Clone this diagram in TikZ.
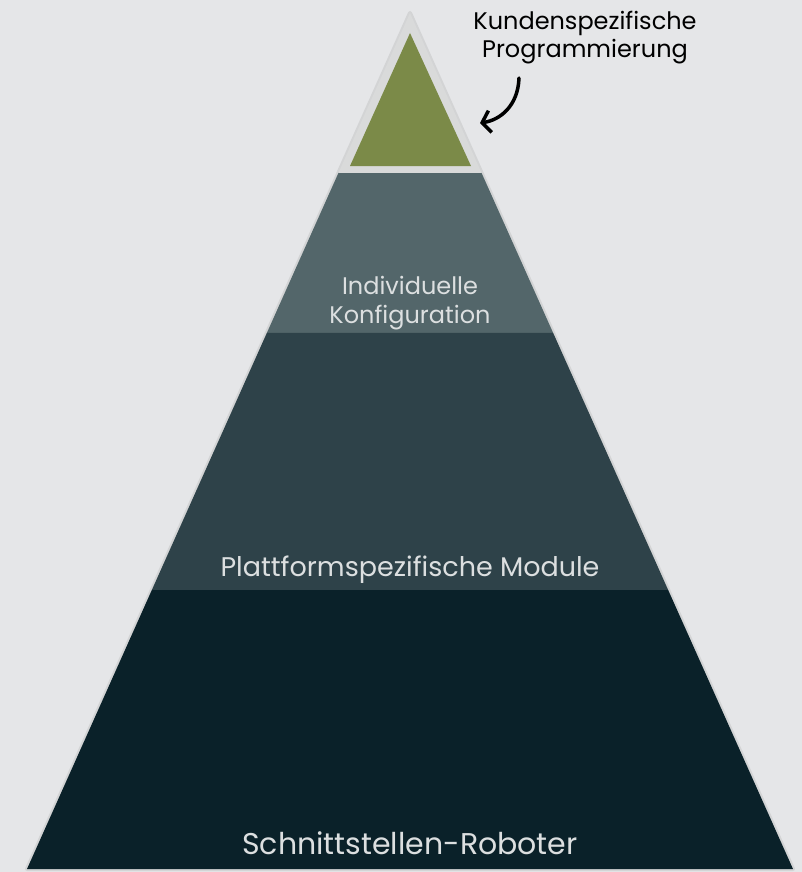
\documentclass[tikz,border=0pt]{standalone}
\usepackage{fontspec}
\setmainfont{Poppins}
\usetikzlibrary{calc, arrows.meta}

\definecolor{hintergrund}{HTML}{E5E6E8}
\definecolor{rand}{HTML}{D3D4D5}
\definecolor{spitze}{HTML}{7B8A48}
\definecolor{spitzerand}{HTML}{D9DADA}
\definecolor{schicht1}{HTML}{53666A}
\definecolor{schicht2}{HTML}{2E4249}
\definecolor{schicht3}{HTML}{0A2129}
\definecolor{schrift}{HTML}{DCDFE0}

\tikzset{
  schicht/.style = {fill=#1, draw=none},
  etikett/.style = {text=schrift, align=center, inner sep=0pt, font=\fontsize{24}{29}\selectfont},
}

\begin{document}
\begin{tikzpicture}[x = 1pt , y = -1pt]
    \fill[hintergrund] (0,0) rectangle (802,872);
    \useasboundingbox (0,0) rectangle (802,872);
    % Eckpunkte der Pyramide
    \coordinate (A) at (410,13);
    \coordinate (L) at (27,869);
    \coordinate (R) at (793,869);
    \draw[rand, line width=4pt, line join=round] (A) -- (L) -- (R) -- cycle; % Rand
    % Schichten
    \foreach \oben/\unten/\farbe in {0.1869/0.3738/schicht1, 0.3738/0.6741/schicht2, 0.6741/1/schicht3}{
        \fill[schicht=\farbe] ($(A)!\oben!(L)$) -- ($(A)!\unten!(L)$) -- ($(A)!\unten!(R)$) -- ($(A)!\oben!(R)$) -- cycle;
    }
    % Spitze
    \fill[spitzerand] (A) -- ($(A)!0.1869!(L)$) -- ($(A)!0.1869!(R)$) -- cycle;
    \fill[spitze] (410,33) -- (350,166) -- (471,166) -- cycle;
    % Texte
    \node[etikett] (konfig) at (410,303) {Individuelle\\Konfiguration};
    \node[etikett, font=\fontsize{27}{29}\selectfont] (module) at (410,570) {Plattformspezifische Module};
    \node[etikett, font=\fontsize{30}{30}\selectfont] (roboter) at (410,843) {Schnittstellen-Roboter};
    \node[align=center, inner sep=0pt, font=\fontsize{24}{28}\selectfont] (kunde) at (585,38) {Kundenspezifische\\Programmierung};
    % Pfeil
    \coordinate (pfeilstart) at (519,78);
    \coordinate (pfeilspitze) at (480,123);
    \draw[line width=3.5pt, line cap=round, -{Straight Barb[length=8pt, width=22pt]}] (pfeilstart) .. controls (518,106) and (500,120) .. (pfeilspitze);
\end{tikzpicture}
\end{document}
